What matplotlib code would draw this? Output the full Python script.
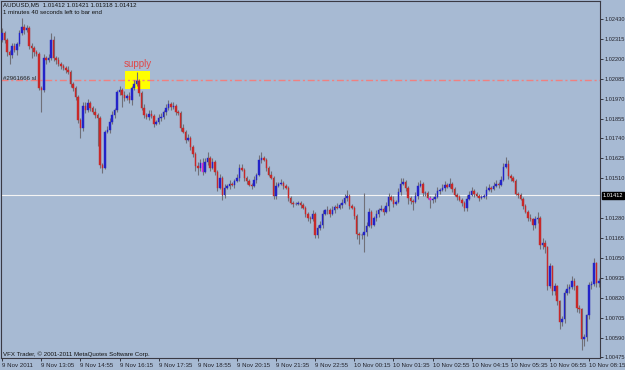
import matplotlib
matplotlib.use("Agg")
import matplotlib.pyplot as plt
from matplotlib import font_manager
from matplotlib.transforms import blended_transform_factory

# ---------------- data ----------------
first_open = 1.02309
closes = [
    1.02349, 1.02309, 1.02239, 1.02222, 1.02274, 1.02251, 1.02286, 1.02349, 1.02383, 1.02366,
    1.02378, 1.02274, 1.02263, 1.02239, 1.02228, 1.02032, 1.02021, 1.02205, 1.02193, 1.02205,
    1.02309, 1.02205, 1.02193, 1.02170, 1.02159, 1.02147, 1.02136, 1.02124, 1.02055, 1.02032,
    1.01980, 1.01848, 1.01802, 1.01928, 1.01905, 1.01946, 1.01917, 1.01894, 1.01877, 1.01859,
    1.01589, 1.01571, 1.01779, 1.01790, 1.01836, 1.01877, 1.01905, 1.02009, 1.02021, 1.01992,
    1.01975, 1.01986, 1.01963, 1.02032, 1.02055, 1.02072, 1.02003, 1.01917, 1.01877, 1.01865,
    1.01882, 1.01871, 1.01825, 1.01836, 1.01859, 1.01865, 1.01894, 1.01917, 1.01940, 1.01923,
    1.01928, 1.01894, 1.01888, 1.01802, 1.01779, 1.01733, 1.01744, 1.01692, 1.01652, 1.01583,
    1.01571, 1.01600, 1.01548, 1.01606, 1.01629, 1.01571, 1.01606, 1.01548, 1.01456, 1.01514,
    1.01416, 1.01456, 1.01468, 1.01479, 1.01473, 1.01496, 1.01514, 1.01571, 1.01560, 1.01514,
    1.01496, 1.01473, 1.01468, 1.01502, 1.01531, 1.01617, 1.01629, 1.01617, 1.01571, 1.01531,
    1.01514, 1.01410, 1.01468, 1.01479, 1.01485, 1.01468, 1.01456, 1.01399, 1.01370, 1.01364,
    1.01364, 1.01370, 1.01358, 1.01341, 1.01306, 1.01283, 1.01272, 1.01306, 1.01185, 1.01220,
    1.01243, 1.01306, 1.01324, 1.01329, 1.01306, 1.01329, 1.01347, 1.01341, 1.01358, 1.01370,
    1.01399, 1.01410, 1.01352, 1.01341, 1.01295, 1.01191, 1.01180, 1.01185, 1.01197, 1.01237,
    1.01318, 1.01243, 1.01283, 1.01306, 1.01329, 1.01335, 1.01318, 1.01352, 1.01404, 1.01387,
    1.01364, 1.01375, 1.01433, 1.01479, 1.01491, 1.01456, 1.01399, 1.01381, 1.01375, 1.01410,
    1.01468, 1.01479, 1.01427, 1.01427, 1.01399, 1.01387, 1.01393, 1.01404, 1.01439, 1.01445,
    1.01456, 1.01473, 1.01462, 1.01479, 1.01450, 1.01416, 1.01404, 1.01387, 1.01370, 1.01341,
    1.01393, 1.01416, 1.01439, 1.01422, 1.01410, 1.01399, 1.01404, 1.01410, 1.01445, 1.01456,
    1.01450, 1.01468, 1.01479, 1.01473, 1.01502, 1.01577, 1.01594, 1.01525, 1.01514, 1.01496,
    1.01422, 1.01416, 1.01393, 1.01352, 1.01318, 1.01283, 1.01272, 1.01243, 1.01272, 1.01283,
    1.01122, 1.01134, 1.01111, 1.00886, 1.01001, 1.00857, 1.00886, 1.00799, 1.00679, 1.00696,
    1.00846, 1.00869, 1.00880, 1.00915, 1.00886, 1.00759, 1.00753, 1.00581, 1.00592, 1.00719,
    1.00892, 1.00897, 1.01018, 1.00903, 1.00915,
]
upper_wick_pips = [
    3, 1, 1, 1, 2, 2, 1, 2, 5, 2,
    2, 1, 2, 1, 1, 1, 1, 2, 1, 2,
    4, 2, 1, 2, 1, 1, 1, 2, 1, 1,
    1, 1, 1, 2, 2, 2, 1, 1, 2, 1,
    1, 1, 1, 2, 2, 2, 1, 1, 2, 1,
    2, 1, 2, 1, 2, 5, 1, 1, 2, 1,
    2, 2, 1, 1, 2, 2, 1, 2, 2, 1,
    2, 1, 1, 1, 2, 1, 2, 1, 1, 1,
    2, 2, 3, 2, 3, 1, 2, 1, 1, 2,
    1, 2, 1, 2, 1, 1, 2, 2, 2, 1,
    1, 1, 1, 2, 1, 3, 3, 1, 1, 1,
    2, 1, 2, 1, 2, 1, 1, 1, 1, 1,
    1, 1, 1, 1, 1, 1, 1, 2, 1, 2,
    2, 2, 1, 2, 1, 2, 1, 2, 1, 2,
    2, 3, 1, 1, 1, 1, 1, 1, 23, 2,
    2, 1, 1, 2, 1, 2, 1, 2, 2, 1,
    2, 1, 2, 3, 2, 1, 1, 1, 1, 2,
    2, 2, 1, 1, 1, 1, 1, 2, 2, 1,
    2, 2, 1, 3, 1, 1, 1, 1, 1, 1,
    2, 2, 2, 1, 1, 1, 1, 1, 2, 2,
    1, 2, 2, 1, 2, 2, 4, 2, 1, 1,
    1, 1, 1, 1, 1, 1, 2, 1, 2, 3,
    1, 3, 2, 1, 2, 1, 2, 1, 1, 2,
    2, 3, 2, 3, 2, 1, 2, 1, 2, 1,
    2, 2, 3, 1, 2,
]
lower_wick_pips = [
    1, 2, 2, 5, 2, 1, 3, 1, 1, 2,
    1, 2, 6, 2, 1, 1, 13, 1, 2, 1,
    1, 2, 2, 1, 2, 1, 2, 1, 2, 2,
    2, 2, 6, 2, 2, 1, 2, 1, 2, 16,
    2, 3, 1, 1, 2, 1, 2, 1, 2, 7,
    2, 1, 2, 3, 1, 1, 2, 1, 2, 1,
    2, 1, 2, 1, 1, 2, 1, 2, 1, 2,
    1, 2, 1, 2, 1, 2, 1, 2, 2, 3,
    4, 2, 2, 1, 2, 2, 1, 2, 2, 1,
    3, 2, 1, 2, 1, 2, 1, 2, 1, 2,
    2, 1, 2, 1, 2, 1, 2, 1, 2, 1,
    1, 2, 2, 1, 1, 2, 1, 2, 1, 2,
    1, 1, 2, 1, 2, 2, 2, 1, 2, 2,
    1, 2, 1, 2, 2, 1, 2, 1, 1, 2,
    1, 2, 2, 1, 2, 3, 5, 2, 10, 2,
    1, 2, 1, 2, 2, 1, 2, 1, 3, 1,
    2, 1, 1, 2, 1, 2, 4, 2, 5, 1,
    2, 1, 2, 2, 1, 5, 2, 2, 1, 2,
    1, 2, 1, 1, 2, 1, 2, 1, 2, 2,
    2, 1, 1, 2, 1, 2, 1, 1, 2, 1,
    2, 1, 1, 2, 1, 1, 1, 2, 2, 1,
    1, 2, 1, 2, 1, 2, 1, 3, 2, 2,
    2, 2, 3, 2, 1, 2, 2, 2, 4, 2,
    2, 1, 2, 1, 2, 2, 2, 6, 4, 2,
    2, 2, 1, 2, 2,
]
magenta_bars = [82, 175]

time_labels = ["9 Nov 2011", "9 Nov 13:05", "9 Nov 14:55", "9 Nov 16:15", "9 Nov 17:35",
               "9 Nov 18:55", "9 Nov 20:15", "9 Nov 21:35", "9 Nov 22:55", "10 Nov 00:15",
               "10 Nov 01:35", "10 Nov 02:55", "10 Nov 04:15", "10 Nov 05:35", "10 Nov 06:55",
               "10 Nov 08:15"]
time_label_bars = [0, 16, 32, 48, 64, 80, 96, 112, 128, 144, 160, 176, 192, 208, 224, 240]
price_ticks = [1.00475, 1.00590, 1.00705, 1.00820, 1.00935, 1.01050, 1.01165, 1.01280,
               1.01510, 1.01625, 1.01740, 1.01855, 1.01970, 1.02085, 1.02200, 1.02315, 1.02430]
current_price = 1.01412
sl_price = 1.02080
supply_start_bar, supply_end_bar = 50.2, 60.3
supply_low, supply_high = 1.02028, 1.02130

# ---------------- style ----------------
names = {f.name for f in font_manager.fontManager.ttflist}
if "Liberation Sans Narrow" in names:
    FONT, FS, YFS = "Liberation Sans Narrow", 5.2, 4.8
else:
    FONT, FS, YFS = "Liberation Sans", 4.4, 4.1
plt.rcParams["font.family"] = [FONT, "DejaVu Sans"]

BG = "#A7BAD3"
BULL = "#2323C8"
BEAR = "#C82828"
WICK = "#707078"

W, H = 625, 370
fig = plt.figure(figsize=(W / 100, H / 100), dpi=100, facecolor=BG)
ax = fig.add_axes([1 / W, 12 / H, 599 / W, 357 / H], facecolor=BG)

n = len(closes)
xs = list(range(n))
opens = [first_open] + closes[:-1]
highs = [max(o, c) + u / 10000 for o, c, u in zip(opens, closes, upper_wick_pips)]
lows = [min(o, c) - l / 10000 for o, c, l in zip(opens, closes, lower_wick_pips)]

# supply zone
ax.fill_between([supply_start_bar, supply_end_bar], supply_low, supply_high,
                color="#FFFF00", zorder=1, linewidth=0)

# lines
ax.axhline(current_price, color="#F4F4F4", lw=0.8, zorder=2)
ax.axhline(sl_price, color="#F08080", lw=1.0, dashes=(5, 2, 1.5, 2), zorder=2)

# candles
ax.vlines(xs, lows, highs, color=WICK, lw=0.8, zorder=3)
colors = []
for i, (o, c) in enumerate(zip(opens, closes)):
    if i in magenta_bars:
        colors.append("#E020E0")
    elif c >= o:
        colors.append(BULL)
    else:
        colors.append(BEAR)
bottoms = [min(o, c) for o, c in zip(opens, closes)]
heights = [abs(c - o) for o, c in zip(opens, closes)]
ax.bar(xs, heights, bottom=bottoms, width=0.62, color=colors, edgecolor=colors,
       linewidth=0.3, zorder=4)

ax.set_xlim(-0.5, n - 0.5)
ax.set_ylim(1.00472, 1.02534)

# axes decorations
for s in ax.spines.values():
    s.set_color("#3A3A44")
    s.set_linewidth(0.8)
ax.yaxis.tick_right()
ax.set_yticks(price_ticks)
ax.set_yticklabels([f"{p:.5f}" for p in price_ticks])
ax.tick_params(axis="y", direction="out", length=2.0, width=0.6, colors="#22222A",
               labelsize=YFS, pad=1.0)
ax.set_xticks(time_label_bars)
ax.set_xticklabels(time_labels)
ax.tick_params(axis="x", direction="out", length=2.5, width=0.6, colors="#22222A",
               labelsize=FS, pad=1.0)
for lab in ax.get_xticklabels():
    lab.set_horizontalalignment("left")

# current price box on the price scale
tr = blended_transform_factory(ax.transAxes, ax.transData)
ax.text(1.005, current_price, f"{current_price:.5f}", transform=tr, ha="left", va="center",
        fontsize=YFS, color="white", clip_on=False, zorder=10,
        bbox=dict(boxstyle="square,pad=0.15", fc="black", ec="black"))

# texts
def ftext(x, y, s, **kw):
    fig.text(x / W, 1 - y / H, s, **kw)

ftext(3, 5, "AUDUSD,M5  1.01412 1.01421 1.01318 1.01412", fontsize=FS, color="#111111",
      va="center", ha="left")
ftext(3, 13, "1 minutes 40 seconds left to bar end", fontsize=FS, color="#111111",
      va="center", ha="left")
ftext(3, 354, "VFX Trader, \u00a9 2001-2011 MetaQuotes Software Corp.", fontsize=FS,
      color="#111111", va="center", ha="left")
ax.text(0.5, sl_price + 0.00006, "#2961666 sl", fontsize=FS, color="#222222",
        va="center", ha="left", zorder=5)
ax.text((supply_start_bar + supply_end_bar) / 2, supply_high + 0.00012, "supply",
        fontsize=7, color="#E04848", ha="center", va="bottom", family="Liberation Sans",
        zorder=5)

fig.savefig("out.png", dpi=100, facecolor=BG)
